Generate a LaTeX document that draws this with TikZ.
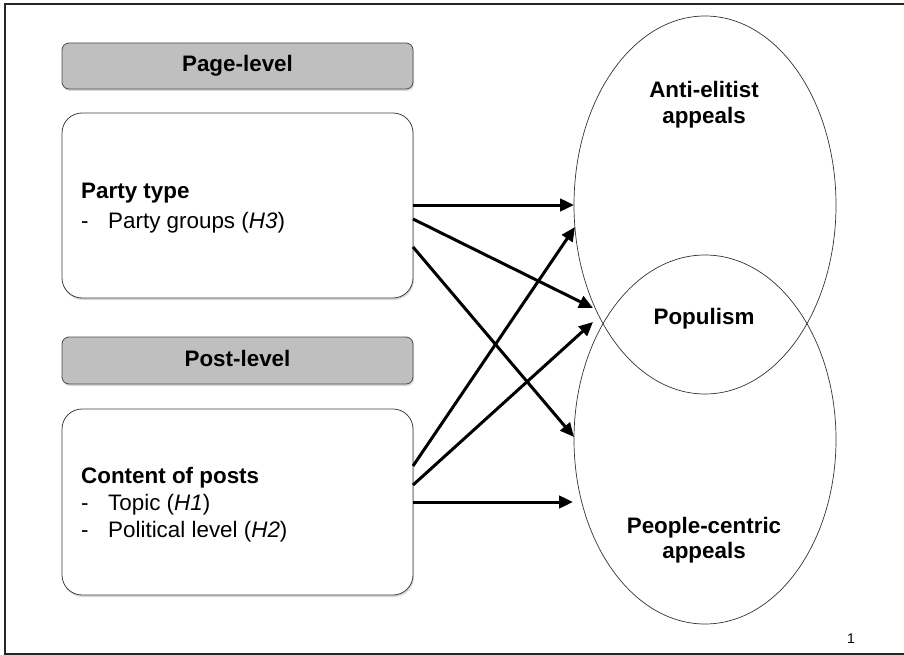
\documentclass[tikz,border=0pt]{standalone}
\usepackage{fontspec}
\setmainfont{Liberation Sans}
\usetikzlibrary{arrows.meta,shadows,shapes.geometric}
\begin{document}
\begin{tikzpicture}[x=1pt,y=-1pt,
  hdr/.style={draw=black!70, line width=0.8pt, fill=black!25, rounded corners=7pt,
    minimum width=351pt, minimum height=46pt, inner sep=0pt,
    drop shadow={opacity=0.3, shadow xshift=1pt, shadow yshift=-2pt}},
  box/.style={draw=black!75, line width=0.8pt, fill=white, rounded corners=20pt,
    minimum width=351pt, minimum height=185pt, inner sep=0pt,
    drop shadow={opacity=0.3, shadow xshift=1pt, shadow yshift=-2pt}},
  bigtxt/.style={font=\fontsize{22.4}{27}\selectfont, inner sep=0pt},
  lbl/.style={bigtxt, anchor=base west},
  ctr/.style={bigtxt, anchor=base, font=\fontsize{22.4}{27}\selectfont\bfseries},
  oval/.style={ellipse, draw=black!80, line width=0.7pt, inner sep=0pt, outer sep=0pt,
    minimum width=262pt},
  arr/.style={line width=3pt, -{Triangle[length=14pt,width=12.5pt]}}
]
\useasboundingbox (0,0) rectangle (904,655);
% frame
\draw[black!85, line width=1.6pt] (904,4) -- (5,4) -- (5,654) -- (904,654);

% left side
\node[hdr] (pagehdr) at (237.5,66) {};
\node[ctr] (pagetxt) at (237.5,72) {Page-level};
\node[box] (party) at (237.5,205.5) {};
\node[lbl, font=\fontsize{22.4}{27}\selectfont\bfseries] (partytype) at (81,198) {Party type};
\node[lbl] (dash1) at (81,228) {-};
\node[lbl] (groups) at (108,228) {Party groups (\textit{H3})};

\node[hdr, minimum height=47pt] (posthdr) at (237.5,360.5) {};
\node[ctr] (posttxt) at (237.5,366) {Post-level};
\node[box, minimum height=186pt] (content) at (237.5,502) {};
\node[lbl, font=\fontsize{22.4}{27}\selectfont\bfseries] (contenttxt) at (81,483) {Content of posts};
\node[lbl] (dash2) at (81,510) {-};
\node[lbl] (topic) at (108,510) {Topic (\textit{H1})};
\node[lbl] (dash3) at (81,537) {-};
\node[lbl] (plevel) at (108,537) {Political level (\textit{H2})};

% ellipses
\node[oval, minimum height=378pt] (anti) at (705,205) {};
\node[oval, minimum height=369pt] (people) at (705,439.5) {};
\node[ctr] (antitxt1) at (704,98) {Anti-elitist};
\node[ctr] (antitxt2) at (704,124) {appeals};
\node[ctr] (poptxt) at (704,324) {Populism};
\node[ctr] (peoptxt1) at (704,533) {People-centric};
\node[ctr] (peoptxt2) at (704,558) {appeals};

\node[font=\fontsize{14}{16}\selectfont, anchor=base, inner sep=0pt] (pagenum) at (851,643) {1};

% connector end points
\coordinate (s1) at (413,205);
\coordinate (s2) at (413,219);
\coordinate (s3) at (413,247);
\coordinate (s4) at (413,466);
\coordinate (s5) at (413,485);
\coordinate (s6) at (413,502);
\coordinate (t1) at (574,205);
\coordinate (t2) at (593,308);
\coordinate (t3) at (574,437);
\coordinate (t4) at (575,227);
\coordinate (t5) at (593,322);
\coordinate (t6) at (573,502);

\draw[arr] (s1) -- (t1);
\draw[arr] (s2) -- (t2);
\draw[arr] (s3) -- (t3);
\draw[arr] (s4) -- (t4);
\draw[arr] (s5) -- (t5);
\draw[arr] (s6) -- (t6);
\end{tikzpicture}
\end{document}
